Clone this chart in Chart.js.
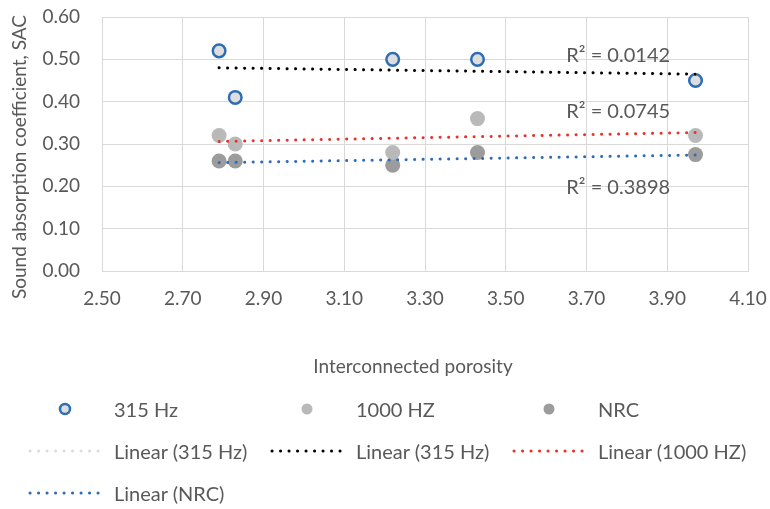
<!DOCTYPE html>
<html><head><meta charset="utf-8">
<script src="https://cdn.jsdelivr.net/npm/chart.js@4.4.1/dist/chart.umd.min.js"></script>
<style>
html,body{margin:0;padding:0;background:#fff;}
#wrap{position:relative;width:770px;height:509px;overflow:hidden;}
#legend{position:absolute;left:0;top:0;width:770px;height:509px;pointer-events:none;font-family:Lato,"Open Sans",sans-serif;font-size:20px;color:#595959;}
.item{position:absolute;height:26px;display:flex;align-items:center;white-space:nowrap;}
.sym{width:74px;height:26px;display:flex;align-items:center;justify-content:center;margin-right:12px;}
</style></head><body>
<div id="wrap"><canvas id="c" width="770" height="509"></canvas><div id="legend"></div></div>
<script>
// ---- data ----
const porosity = [2.79, 2.83, 3.22, 3.43, 3.97];
const sac315 = [0.52, 0.41, 0.50, 0.50, 0.45];
const sac1000 = [0.32, 0.30, 0.28, 0.36, 0.32];
const sacNRC = [0.26, 0.26, 0.25, 0.28, 0.275];
const trendX = [2.79, 3.97];
const trend315 = [0.480, 0.465];
const trend1000 = [0.306, 0.327];
const trendNRC = [0.256, 0.274];
const r2Texts = ['R\u00B2 = 0.0142', 'R\u00B2 = 0.0745', 'R\u00B2 = 0.3898'];
const r2AnchorY = [0.510, 0.376, 0.196];
const r2AnchorX = 3.65;
const xTitle = 'Interconnected porosity';
const yTitle = 'Sound absorption coefficient, SAC';

const pts = (xs, ys) => xs.map((x, i) => ({x: x, y: ys[i]}));
const TXT = '#595959';
const FONT = 'Lato, "Open Sans", sans-serif';

const scatterSets = [
  {label: '315 Hz', data: pts(porosity, sac315), backgroundColor: '#dedede', borderColor: '#2e6db4', borderWidth: 2.5, pointRadius: 6.3, showLine: false, order: 3},
  {label: '1000 HZ', data: pts(porosity, sac1000), backgroundColor: '#b9b9b9', borderColor: '#b9b9b9', borderWidth: 0, pointRadius: 7.5, showLine: false, order: 3},
  {label: 'NRC', data: pts(porosity, sacNRC), backgroundColor: '#9c9c9c', borderColor: '#9c9c9c', borderWidth: 0, pointRadius: 7.5, showLine: false, order: 3}
];
const lineCommon = {showLine: true, pointRadius: 0, borderWidth: 3, borderDash: [0.1, 8.4], borderCapStyle: 'round', fill: false};
const trendSets = [
  Object.assign({label: 'Linear (315 Hz)', data: pts(trendX, trend315), borderColor: '#dcdcdc', backgroundColor: '#dcdcdc', order: 2}, lineCommon),
  Object.assign({label: 'Linear (315 Hz)', data: pts(trendX, trend315), borderColor: '#000000', backgroundColor: '#000000', order: 1}, lineCommon),
  Object.assign({label: 'Linear (1000 HZ)', data: pts(trendX, trend1000), borderColor: '#e8322d', backgroundColor: '#e8322d', order: 1}, lineCommon),
  Object.assign({label: 'Linear (NRC)', data: pts(trendX, trendNRC), borderColor: '#2e6db4', backgroundColor: '#2e6db4', order: 1}, lineCommon)
];
const datasets = scatterSets.concat(trendSets);

const textPlugin = {
  id: 'texts',
  afterDatasetsDraw(chart) {
    const ctx = chart.ctx, xs = chart.scales.x, ys = chart.scales.y, ca = chart.chartArea;
    ctx.save();
    ctx.fillStyle = TXT;
    ctx.font = '20px ' + FONT;
    ctx.textAlign = 'left';
    ctx.textBaseline = 'middle';
    r2Texts.forEach((t, i) => ctx.fillText(t, xs.getPixelForValue(r2AnchorX), ys.getPixelForValue(r2AnchorY[i])));
    ctx.font = '19px ' + FONT;
    ctx.textAlign = 'center';
    ctx.fillText(xTitle, (ca.left + ca.right) / 2 - 12, ca.bottom + 96);
    ctx.translate(20, (ca.top + ca.bottom) / 2 + 13);
    ctx.rotate(-Math.PI / 2);
    ctx.fillText(yTitle, 0, 0);
    ctx.restore();
  }
};

new Chart(document.getElementById('c'), {
  type: 'scatter',
  data: {datasets: datasets},
  options: {
    responsive: false,
    animation: false,
    events: [],
    layout: {padding: {top: 17, right: 22, bottom: 0, left: 0}},
    plugins: {legend: {display: false}, tooltip: {enabled: false}},
    scales: {
      x: {
        type: 'linear', min: 2.5, max: 4.1,
        ticks: {stepSize: 0.2, color: TXT, font: {family: FONT, size: 19}, padding: 16, callback: v => Number(v).toFixed(2)},
        grid: {color: '#d9d9d9', lineWidth: 1, drawTicks: false},
        border: {color: '#d9d9d9'},
        afterFit: s => { s.height = 238; s.paddingLeft = 0; s.paddingRight = 0; }
      },
      y: {
        type: 'linear', min: 0, max: 0.6,
        ticks: {stepSize: 0.1, color: TXT, font: {family: FONT, size: 19}, padding: 22, callback: v => Number(v).toFixed(2)},
        grid: {color: '#d9d9d9', lineWidth: 1, drawTicks: false},
        border: {color: '#d9d9d9'},
        afterFit: s => { s.width = 102; s.paddingTop = 0; s.paddingBottom = 0; }
      }
    }
  },
  plugins: [textPlugin]
});

// ---- legend (Excel-style grid) ----
const legendOrder = [0, 1, 2, 3, 4, 5, 6];
const leg = document.getElementById('legend');
legendOrder.forEach((di, k) => {
  const ds = datasets[di];
  const col = k % 3, row = Math.floor(k / 3);
  const item = document.createElement('div');
  item.className = 'item';
  item.style.left = (28 + col * 242) + 'px';
  item.style.top = (409 + row * 42 - 13) + 'px';
  const sym = document.createElement('div');
  sym.className = 'sym';
  if (ds.showLine) {
    sym.innerHTML = '<svg width="74" height="8"><line x1="2" y1="4" x2="72" y2="4" stroke="' + ds.borderColor +
      '" stroke-width="3" stroke-linecap="round" stroke-dasharray="0.1 8.4"/></svg>';
  } else {
    const r = ds.borderWidth ? 5 : 5.5;
    sym.innerHTML = '<svg width="16" height="16"><circle cx="8" cy="8" r="' + r + '" fill="' + ds.backgroundColor +
      '" stroke="' + ds.borderColor + '" stroke-width="' + (ds.borderWidth || 0) + '"/></svg>';
  }
  const txt = document.createElement('span');
  txt.textContent = ds.label;
  item.appendChild(sym);
  item.appendChild(txt);
  leg.appendChild(item);
});
</script>
</body></html>
